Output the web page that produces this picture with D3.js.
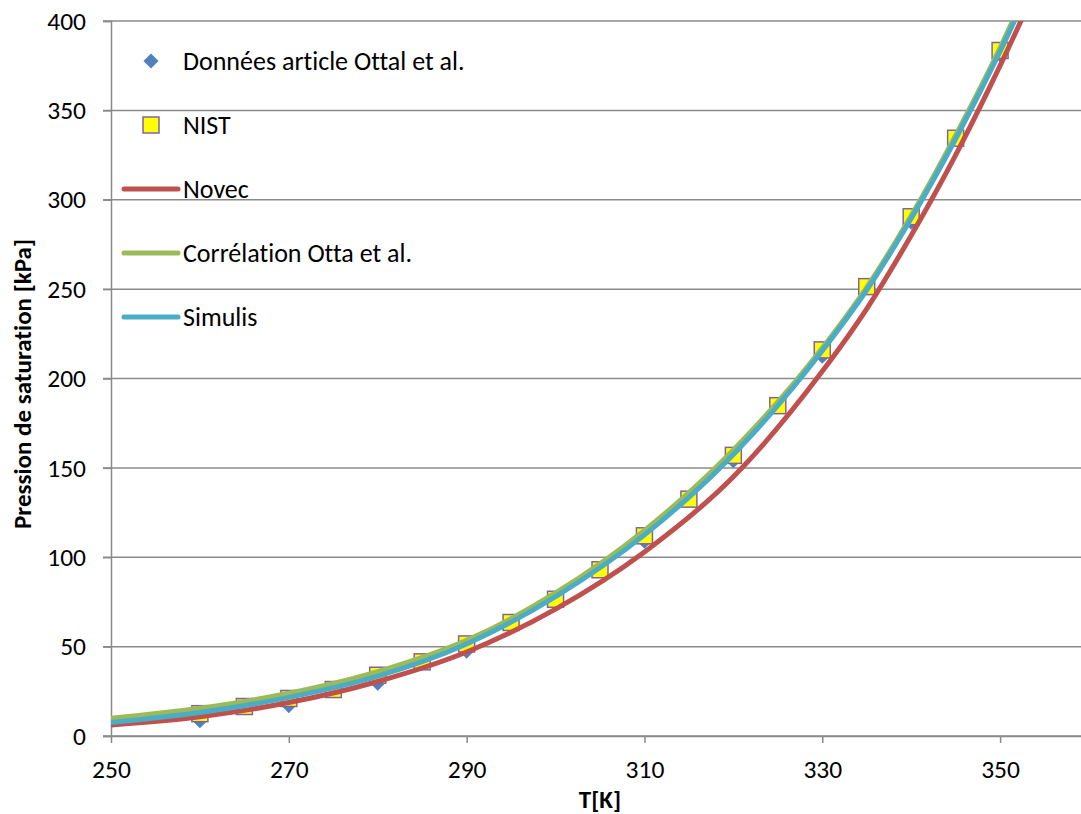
<!DOCTYPE html>
<html>
<head>
<meta charset="utf-8">
<script src="https://cdn.jsdelivr.net/npm/d3@7"></script>
<style>
  body { margin: 0; background: #fff; }
  svg { display: block; }
  text { font-family: Calibri, Carlito, Lato, sans-serif; fill: #000; font-variant-ligatures: none; }
</style>
</head>
<body>
<div id="content"></div>
<script>
// data
let xTicks = [250, 270, 290, 310, 330, 350];
let yTicks = [0, 50, 100, 150, 200, 250, 300, 350, 400];

// Données article Ottal et al. (diamonds)
let ottalT = [260, 270, 280, 290, 300, 310, 320, 330, 340, 350];
let ottalP = [8.5, 17, 29.5, 47.5, 74.5, 109, 154, 212.5, 287.5, 381];

// NIST (squares)
let nistT = [260, 265, 270, 275, 280, 285, 290, 295, 300, 305, 310, 315, 320, 325, 330, 335, 340, 345, 350];
let nistP = [12.5, 16.5, 21, 26, 34, 41.5, 51.5, 63.5, 76.5, 93, 112, 132.5, 157, 184.8, 216, 251.4, 290.5, 334.4, 383.5];

// curves
let curveT = [250, 260, 270, 280, 290, 300, 310, 320, 330, 335, 340, 345, 350, 355];
let novecP = [6.2, 10.8, 18.7, 30.5, 47, 71, 103, 145, 204, 239, 280, 325, 375, 429];
let otta2P = [9.9, 15.5, 23.9, 36, 53.5, 80, 115, 160, 217, 251, 291, 336, 385, 440];
let simulisP = [7.6, 13.2, 21.6, 33.5, 51.5, 78, 112.5, 157.5, 215.5, 249.5, 289.5, 334, 383, 437];

const W = 1081, H = 814;
const FONT = 'Calibri, Carlito, Lato, sans-serif';
const svg = d3.select('#content').append('svg').attr('width', W).attr('height', H);

let x = d3.scaleLinear().domain([250, 360]).range([111, 1089]);
let y = d3.scaleLinear().domain([0, 400]).range([736, 21]);

// gridlines
svg.append('g')
  .selectAll('line')
  .data(yTicks)
  .join('line')
  .attr('x1', 103).attr('x2', W)
  .attr('y1', d => y(d)).attr('y2', d => y(d))
  .attr('stroke', '#8a8a8a').attr('stroke-width', 1.5);

// axes
let yAxis = d3.axisLeft(y).tickValues(yTicks).tickSize(8).tickPadding(17);
let gy = svg.append('g').attr('transform', 'translate(111,0)').call(yAxis);
let xAxis = d3.axisBottom(x).tickValues(xTicks).tickSize(7).tickPadding(17);
let gx = svg.append('g').attr('transform', 'translate(0,736)').call(xAxis);
[gx, gy].forEach(g => {
  g.select('.domain').attr('stroke', '#8a8a8a').attr('stroke-width', 1.5);
  g.selectAll('.tick line').attr('stroke', '#8a8a8a').attr('stroke-width', 1.5);
  g.selectAll('.tick text')
    .style('font-family', FONT)
    .attr('font-size', 25.5).attr('fill', '#000');
});
gx.select('.domain').attr('d', 'M111,0.5H' + W);

// clip to plot area
svg.append('clipPath').attr('id', 'plot')
  .append('rect').attr('x', 111).attr('y', 21).attr('width', W - 111).attr('height', 715);

let plot = svg.append('g').attr('clip-path', 'url(#plot)');

let diamond = d3.symbol().type(d3.symbolDiamond2).size(145);

plot.append('g')
  .selectAll('path')
  .data(ottalT)
  .join('path')
  .attr('d', diamond)
  .attr('transform', (d, i) => `translate(${x(d)},${y(ottalP[i])})`)
  .attr('fill', '#4F81BD');

plot.append('g')
  .selectAll('rect')
  .data(nistT)
  .join('rect')
  .attr('x', d => x(d) - 8)
  .attr('y', (d, i) => y(nistP[i]) - 8)
  .attr('width', 16).attr('height', 16)
  .attr('fill', '#FFFF00')
  .attr('stroke', '#8064A2').attr('stroke-width', 1.5);

let series = [
  {name: 'Novec', values: novecP, color: '#C0504D'},
  {name: 'Corrélation Otta et al.', values: otta2P, color: '#9BBB59'},
  {name: 'Simulis', values: simulisP, color: '#4BACC6'}
];

let line = d3.line()
  .x((d, i) => x(curveT[i]))
  .y(d => y(d))
  .curve(d3.curveMonotoneX);

plot.append('g')
  .selectAll('path')
  .data(series)
  .join('path')
  .attr('d', s => line(s.values))
  .attr('fill', 'none')
  .attr('stroke', s => s.color)
  .attr('stroke-width', 5)
  .attr('stroke-linejoin', 'round');

// legend
let legend = svg.append('g');
legend.append('path')
  .attr('d', diamond)
  .attr('transform', 'translate(151,61)')
  .attr('fill', '#4F81BD');
legend.append('rect')
  .attr('x', 143).attr('y', 117).attr('width', 16).attr('height', 16)
  .attr('fill', '#FFFF00').attr('stroke', '#8064A2').attr('stroke-width', 1.5);

let legendLabels = ['Données article Ottal et al.', 'NIST'].concat(series.map(s => s.name));
legend.selectAll('text')
  .data(legendLabels)
  .join('text')
  .attr('x', 183)
  .attr('y', (d, i) => 61 + i * 64)
  .attr('dy', '0.35em')
  .attr('font-size', 26)
  .text(d => d);

legend.selectAll('line')
  .data(series)
  .join('line')
  .attr('x1', 124).attr('x2', 178)
  .attr('y1', (d, i) => 189 + i * 64).attr('y2', (d, i) => 189 + i * 64)
  .attr('stroke', d => d.color)
  .attr('stroke-width', 5)
  .attr('stroke-linecap', 'round');

// axis titles
svg.append('text')
  .attr('x', 600).attr('y', 808)
  .attr('text-anchor', 'middle')
  .attr('font-size', 25).attr('font-weight', 'bold')
  .text('T[K]');

svg.append('text')
  .attr('transform', 'translate(31,384) rotate(-90)')
  .attr('text-anchor', 'middle')
  .attr('font-size', 25).attr('font-weight', 'bold')
  .text('Pression de saturation [kPa]');
</script>
</body>
</html>
